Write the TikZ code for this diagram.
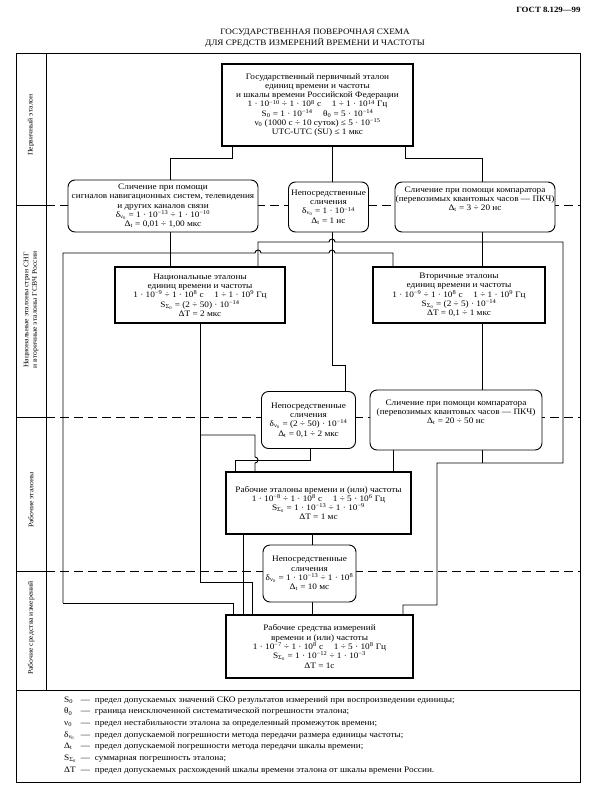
\documentclass[tikz,border=0pt]{standalone}
\usepackage{fontspec}
\setmainfont{Liberation Serif}[FakeStretch=1.1]
\usetikzlibrary{calc}
\pgfdeclarelayer{bg}
\pgfsetlayers{bg,main}
\newcommand\pw[1]{\textsuperscript{#1}}
\newcommand\dnu{δ\textsubscript{ν\textsubscript{0}}}
\newcommand\SSo{S\textsubscript{Σ\textsubscript{0}}}
\newcommand\Dt{Δ\textsubscript{t}}
\newcommand\fs{\fontsize{8.4}{9.3}\selectfont}
\tikzset{
  tbox/.style={draw, line width=2.4pt, fill=white, align=center, inner sep=0pt, font=\fs},
  rbox/.style={draw, line width=0.9pt, rounded corners=7pt, fill=white, align=center, inner sep=0pt, font=\fs},
  conn/.style={line width=0.9pt},
  divline/.style={line width=0.8pt, dash pattern=on 9pt off 5pt},
  frame/.style={line width=0.9pt},
  txt/.style={inner sep=0pt, align=center, font=\fs}
}
\begin{document}
\begin{tikzpicture}[x=1pt,y=-1pt]
\useasboundingbox (0,0) rectangle (594,789);
% header
\node[font=\fontsize{8}{9}\selectfont\bfseries, anchor=east] (hdr) at (584,10) {ГОСТ 8.129—99};
\node[font=\fontsize{8.3}{11.5}\selectfont, align=center] (ttl) at (315,38) {ГОСУДАРСТВЕННАЯ ПОВЕРОЧНАЯ СХЕМА\\ДЛЯ СРЕДСТВ ИЗМЕРЕНИЙ ВРЕМЕНИ И ЧАСТОТЫ};
% frame
\draw[frame] (16,53) rectangle (580,782);
\draw[frame] (46,53) -- (46,690);
\draw[frame] (16,690) -- (580,690);
\draw[frame] (16,205) -- (46,205);
\draw[frame] (16,417) -- (46,417);
\draw[frame] (16,571) -- (46,571);
\node[rotate=90, font=\fontsize{7}{8.5}\selectfont] (l1) at (31,125) {Первичный эталон};
\node[rotate=90, font=\fontsize{7}{8.5}\selectfont, align=center] (l2) at (31,310) {Национальные эталоны стран СНГ\\и вторичные эталоны ГСВЧ России};
\node[rotate=90, font=\fontsize{7}{8.5}\selectfont] (l3) at (31,500) {Рабочие эталоны};
\node[rotate=90, font=\fontsize{7}{8.5}\selectfont] (l4) at (31,628) {Рабочие средства измерений};

% boxes
\node[tbox, minimum width=191pt, minimum height=82pt] (top) at (317.5,105) {Государственный первичный эталон\\единиц времени и частоты\\и шкалы времени Российской Федерации\\1 · 10\pw{−10} ÷ 1 · 10\pw{8} с \quad 1 ÷ 1 · 10\pw{14} Гц\\S\textsubscript{0} = 1 · 10\pw{−14} \quad θ\textsubscript{0} = 5 · 10\pw{−14}\\ν\textsubscript{0} (1000 с ÷ 10 суток) ≤ 5 · 10\pw{−15}\\UTC-UTC (SU) ≤ 1 мкс};

\node[rbox, minimum width=190pt, minimum height=52pt] (lc) at (163,206) {Сличение при помощи\\сигналов навигационных систем, телевидения\\и других каналов связи\\\dnu{} = 1 · 10\pw{−13} ÷ 1 · 10\pw{−10}\\\Dt{} = 0,01 ÷ 1,00 мкс};
\node[rbox, minimum width=80pt, minimum height=50pt] (mc) at (328.5,207) {Непосредственные\\сличения\\\dnu{} = 1 · 10\pw{−14}\\\Dt{} = 1 нс};
\node[rbox, minimum width=160pt, minimum height=50pt] (rc) at (475,207) {};
\node[txt, anchor=north] (rct) at ([yshift=-5pt]rc.north) {Сличение при помощи компаратора\\(перевозимых квантовых часов — ПКЧ)\\\Dt{} = 3 ÷ 20 нс};

\node[tbox, minimum width=170pt, minimum height=56pt] (nat) at (200,295) {Национальные эталоны\\единиц времени и частоты\\1 · 10\pw{−9} ÷ 1 · 10\pw{8} с \quad 1 ÷ 1 · 10\pw{9} Гц\\\SSo{} = (2 ÷ 50) · 10\pw{−14}\\ΔT = 2 мкс};
\node[tbox, minimum width=172pt, minimum height=56pt] (sec) at (459,295) {Вторичные эталоны\\единиц времени и частоты\\1 · 10\pw{−9} ÷ 1 · 10\pw{8} с \quad 1 ÷ 1 · 10\pw{9} Гц\\\SSo{} = (2 ÷ 5) · 10\pw{−14}\\ΔT = 0,1 ÷ 1 мкс};

\node[rbox, minimum width=94pt, minimum height=57pt] (d3) at (308.5,420) {Непосредственные\\сличения\\\dnu{} = (2 ÷ 50) · 10\pw{−14}\\\Dt{} = 0,1 ÷ 2 мкс};
\node[rbox, minimum width=172pt, minimum height=60pt] (c3) at (456,420) {};
\node[txt, anchor=north] (c3t) at ([yshift=-10pt]c3.north) {Сличение при помощи компаратора\\(перевозимых квантовых часов — ПКЧ)\\\Dt{} = 20 ÷ 50 нс};

\node[tbox, minimum width=185pt, minimum height=62pt] (work) at (318.5,503) {Рабочие эталоны времени и (или) частоты\\1 · 10\pw{−8} ÷ 1 · 10\pw{8} с \quad 1 ÷ 5 · 10\pw{6} Гц\\\SSo{} = 1 · 10\pw{−13} ÷ 1 · 10\pw{−9}\\ΔT = 1 мс};
\node[rbox, minimum width=93pt, minimum height=57pt] (d4) at (309.5,573.5) {Непосредственные\\сличения\\\dnu{} = 1 · 10\pw{−13} ÷ 1 · 10\pw{8}\\\Dt{} = 10 мс};
\node[tbox, minimum width=187pt, minimum height=63pt] (bot) at (319.5,646.5) {Рабочие средства измерений\\времени и (или) частоты\\1 · 10\pw{−7} ÷ 1 · 10\pw{8} с \quad 1 ÷ 5 · 10\pw{8} Гц\\\SSo{} = 1 · 10\pw{−12} ÷ 1 · 10\pw{−3}\\ΔT = 1с};

% legend
\node[anchor=north west, inner sep=0pt, font=\fs] (leg) at (64,694) {\renewcommand\arraystretch{1.25}\begin{tabular}{@{}l@{\ \ }l@{\ \ }l@{}}
S\textsubscript{0} & — & предел допускаемых значений СКО результатов измерений при воспроизведении единицы;\\
θ\textsubscript{0} & — & граница неисключенной систематической погрешности эталона;\\
ν\textsubscript{0} & — & предел нестабильности эталона за определенный промежуток времени;\\
\dnu & — & предел допускаемой погрешности метода передачи размера единицы частоты;\\
\Dt & — & предел допускаемой погрешности метода передачи шкалы времени;\\
\SSo & — & суммарная погрешность эталона;\\
ΔT & — & предел допускаемых расхождений шкалы времени эталона от шкалы времени России.
\end{tabular}};

\begin{pgfonlayer}{bg}
\draw[divline] (46,205) -- (580,205);
\draw[divline] (46,417) -- (580,417);
\draw[divline] (46,571) -- (580,571);
% primary -> comparisons
\draw[conn] (top.south -| 232,0) -- (232,158) -| (lc.north -| 170,0);
\draw[conn] (top.south -| 332,0) -- (mc.north -| 332,0);
\draw[conn] (top.south -| 405,0) -- (405,158) -| (rc.north -| 482,0);
% comparisons -> national / secondary
\draw[conn] (lc.south -| 170,0) -- (nat.north -| 170,0);
\draw[conn] (63,603) -- (63,253) -- (255,253) arc[start angle=180,end angle=0,radius=3pt] -- (329,253) arc[start angle=180,end angle=0,radius=3pt] -- (393,253) -- (sec.north -| 393,0);
\draw[conn] (nat.north -| 258,0) -- (258,242) -- (329,242) arc[start angle=180,end angle=0,radius=3pt] -- (563,242) -- (563,463) -- (437,463) -- (437,605) -- (403,605) -- (bot.north -| 403,0);
\draw[conn] (rc.south -| 482,0) -- (sec.north -| 482,0);
\draw[conn] (63,603) -- (233,603) -- (bot.north -| 233,0);
\draw[conn] (mc.south -| 332,0) -- (332,365) -- (345,365) -- (d3.north -| 345,0);
% national / secondary -> row 3
\draw[conn] (nat.south -| 200,0) -- (200,582) -- (252,582) -- (bot.north -| 252,0);
\draw[conn] (200,435) -- (255,435) -- (255,457) arc[start angle=90,end angle=-90,radius=3pt] -- (work.north -| 255,0);
\draw[conn] (sec.south -| 482,0) -- (c3.north -| 482,0);
\draw[conn] (d3.south -| 310,0) -- (310,460) -- (235,460) -- (work.north -| 235,0);
\draw[conn] (c3.south -| 393,0) -- (work.north -| 393,0);
\draw[conn] (c3.south -| 482,0) -- (482,463);
\draw[conn] (work.south -| 312,0) -- (d4.north -| 312,0);
\draw[conn] (work.south -| 243,0) -- (bot.north -| 243,0);
\draw[conn] (d4.south -| 312,0) -- (bot.north -| 312,0);
\end{pgfonlayer}
\end{tikzpicture}
\end{document}
